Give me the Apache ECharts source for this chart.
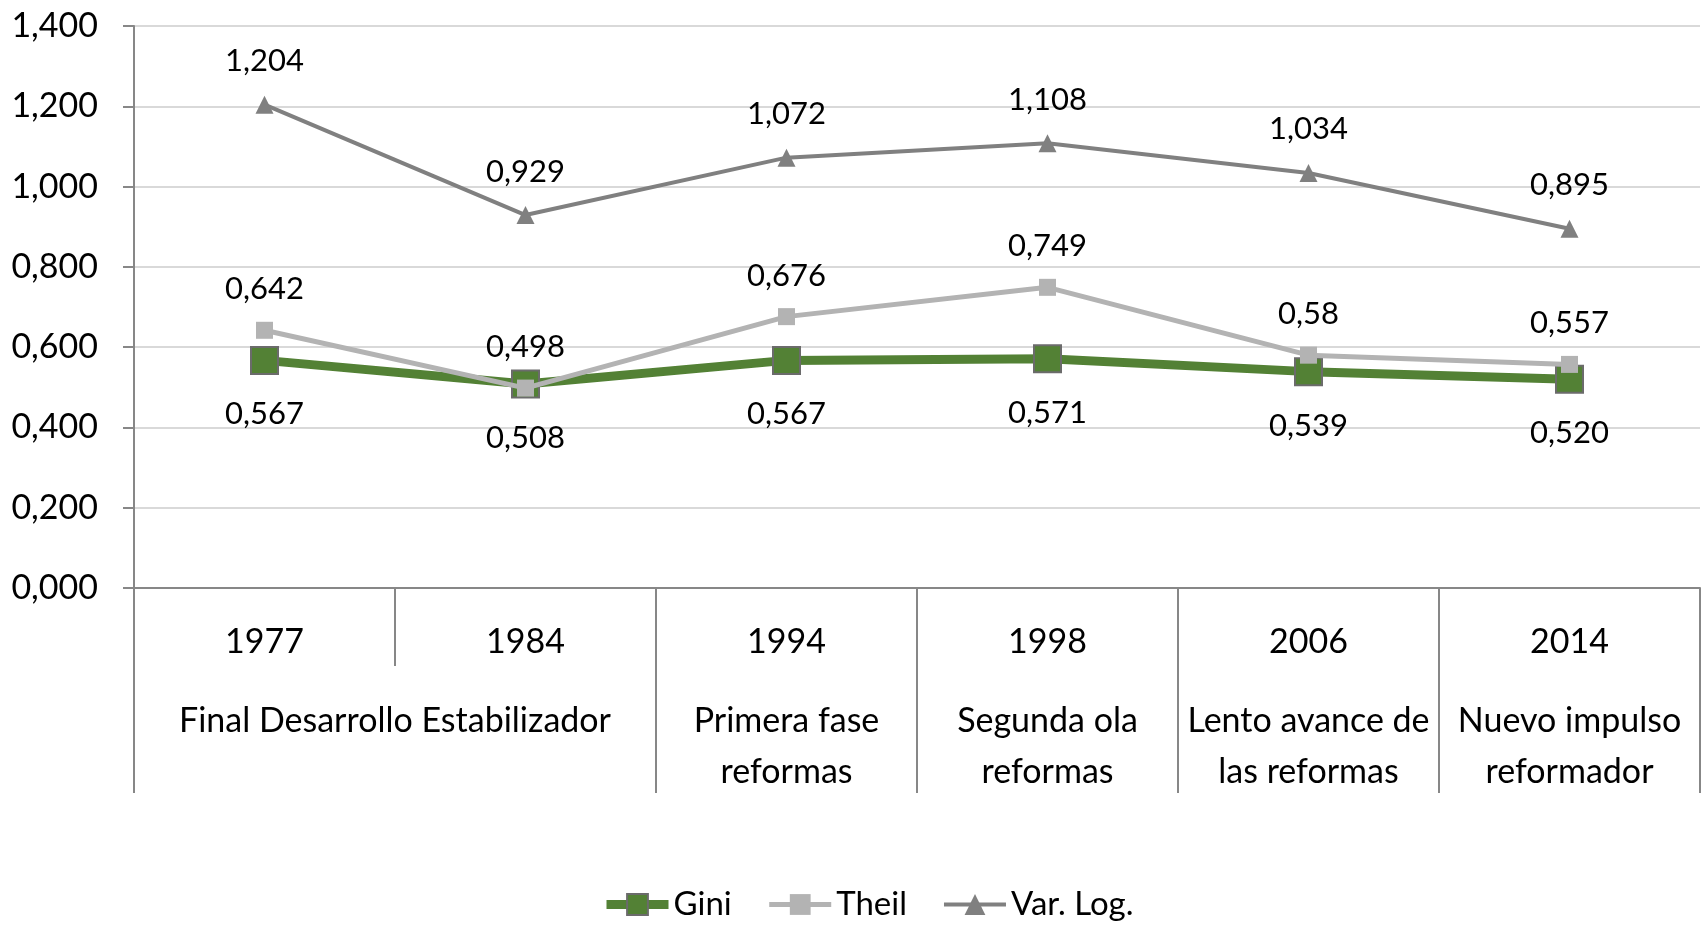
<!DOCTYPE html>
<html>
<head>
<meta charset="utf-8">
<script src="https://cdn.jsdelivr.net/npm/echarts@6/dist/echarts.min.js"></script>
<style>
html,body{margin:0;padding:0;background:#fff;}
#chart{width:1701px;height:930px;}
</style>
</head>
<body>
<div id="chart"></div>
<script>
const years = ['1977', '1984', '1994', '1998', '2006', '2014'];
const groupLabels = ['Final Desarrollo Estabilizador', 'Primera fase\nreformas', 'Segunda ola\nreformas', 'Lento avance de\nlas reformas', 'Nuevo impulso\nreformador'];
const groupStart = [0, 2, 3, 4, 5];
const groupEnd = [1, 2, 3, 4, 5];
const gini = [0.567, 0.508, 0.567, 0.571, 0.539, 0.520];
const theil = [0.642, 0.498, 0.676, 0.749, 0.58, 0.557];
const varLog = [1.204, 0.929, 1.072, 1.108, 1.034, 0.895];
const yMin = 0, yMax = 1.4, yStep = 0.2;

const FONT = 'Lato, "Liberation Sans", sans-serif';
const AXIS_COLOR = '#878787';
const AXIS_FS = 34, LABEL_FS = 31;

// half-category units for group labels / separators
const groupCenters = groupStart.map((s, i) => s + groupEnd[i] + 1);
const groupBounds = groupStart.map(s => s * 2).concat([years.length * 2]);
const labelAt = {};
groupCenters.forEach((c, i) => { labelAt[c] = groupLabels[i]; });

const comma = s => s.replace('.', ',');

const chart = echarts.init(document.getElementById('chart'), null, {renderer: 'canvas'});
chart.setOption({
  animation: false,
  backgroundColor: '#ffffff',
  textStyle: {fontFamily: FONT, color: '#000'},
  grid: {left: 134, right: 1, top: 26, bottom: 342, containLabel: false},
  xAxis: [
    {
      type: 'category',
      data: years,
      boundaryGap: true,
      axisLine: {show: true, lineStyle: {color: AXIS_COLOR, width: 2}},
      axisTick: {show: true, interval: 0, length: 78, lineStyle: {color: AXIS_COLOR, width: 2}},
      axisLabel: {fontSize: AXIS_FS, color: '#000', fontFamily: FONT, margin: 37, interval: 0},
      splitLine: {show: false}
    },
    {
      type: 'value',
      position: 'bottom',
      min: 0,
      max: years.length * 2,
      interval: 1,
      axisLine: {show: false},
      splitLine: {show: false},
      axisTick: {show: true, customValues: groupBounds, length: 205, lineStyle: {color: AXIS_COLOR, width: 2}},
      axisLabel: {
        customValues: groupCenters,
        fontSize: AXIS_FS, color: '#000', fontFamily: FONT, lineHeight: 51, margin: 108,
        formatter: v => labelAt[v] || ''
      }
    }
  ],
  yAxis: {
    type: 'value',
    min: yMin, max: yMax, interval: yStep,
    axisLine: {show: true, lineStyle: {color: AXIS_COLOR, width: 2}},
    axisTick: {show: true, length: 11, lineStyle: {color: AXIS_COLOR, width: 2}},
    splitLine: {show: true, lineStyle: {color: '#d9d9d9', width: 2}},
    axisLabel: {fontSize: AXIS_FS, color: '#000', fontFamily: FONT, margin: 36,
      formatter: v => comma(v.toFixed(3))}
  },
  legend: {
    data: [
      {name: 'Gini', lineStyle: {width: 9}},
      {name: 'Theil', lineStyle: {width: 5}},
      {name: 'Var. Log.', lineStyle: {width: 4}}
    ],
    left: 597, top: 883,
    itemWidth: 62, itemHeight: 26, itemGap: 35,
    textStyle: {fontSize: 33, color: '#000', fontFamily: FONT}
  },
  series: [
    {
      name: 'Gini', type: 'line', data: gini,
      symbol: 'rect', symbolSize: 27,
      lineStyle: {color: '#538135', width: 9},
      itemStyle: {color: '#538135', borderColor: '#6b6b6b', borderWidth: 2},
      label: {show: true, position: 'bottom', distance: 24, fontSize: LABEL_FS, color: '#000', fontFamily: FONT,
        formatter: p => comma(p.value.toFixed(3))},
      z: 2
    },
    {
      name: 'Theil', type: 'line', data: theil,
      symbol: 'rect', symbolSize: 17,
      lineStyle: {color: '#b3b3b3', width: 5},
      itemStyle: {color: '#b3b3b3'},
      label: {show: true, position: 'top', distance: 17, fontSize: LABEL_FS, color: '#000', fontFamily: FONT,
        formatter: p => comma(String(p.value))},
      z: 3
    },
    {
      name: 'Var. Log.', type: 'line', data: varLog,
      symbol: 'triangle', symbolSize: 18,
      lineStyle: {color: '#808080', width: 4},
      itemStyle: {color: '#808080'},
      label: {show: true, position: 'top', distance: 19, fontSize: LABEL_FS, color: '#000', fontFamily: FONT,
        formatter: p => comma(p.value.toFixed(3))},
      z: 4
    }
  ]
});
</script>
</body>
</html>
